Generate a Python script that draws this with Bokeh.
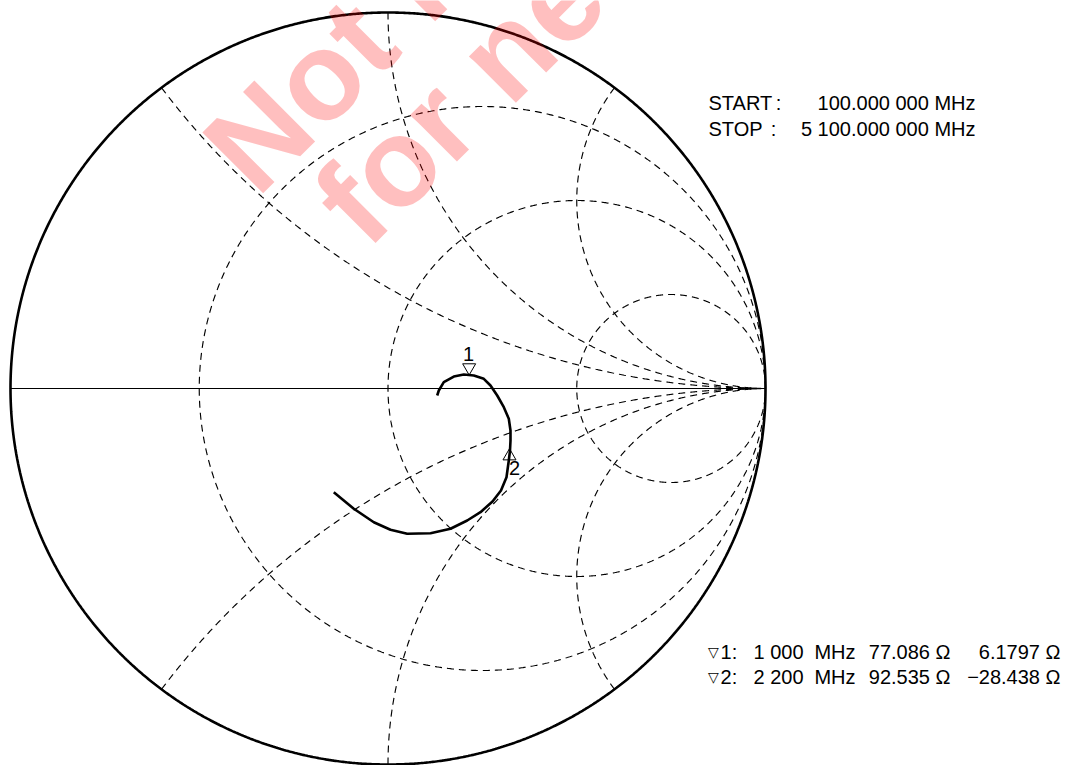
import numpy as np
from bokeh.plotting import figure
from bokeh.core.properties import value
from bokeh.embed import file_html
from bokeh.resources import INLINE

# ---------------- data ----------------
# measured trace, reflection coefficient (real, imag)
trace_re = [0.1303, 0.1346, 0.1478, 0.1743, 0.2008, 0.2273, 0.2538, 0.2715, 0.2893,
            0.3068, 0.3200, 0.3245, 0.3245, 0.3232, 0.3200, 0.3139, 0.2993, 0.2768,
            0.2450, 0.2098, 0.1656, 0.1126, 0.0509, 0.0066, -0.0376, -0.0906, -0.1436]
trace_im = [-0.0186, -0.0053, 0.0168, 0.0319, 0.0372, 0.0346, 0.0258, 0.0080, -0.0186,
            -0.0497, -0.0806, -0.1117, -0.1383, -0.1649, -0.1915, -0.2359, -0.2713, -0.3005,
            -0.3290, -0.3511, -0.3731, -0.3848, -0.3864, -0.3758, -0.3556, -0.3199, -0.2758]

marker_ids = ["1", "2"]
marker_freq_num = ["1 000", "2 200"]
marker_unit = "MHz"
marker_r_ohm = [77.086, 92.535]
marker_x_ohm = [6.1797, -28.438]
marker_r_text = ["77.086 \u03a9", "92.535 \u03a9"]
marker_x_text = ["6.1797 \u03a9", "\u221228.438 \u03a9"]
z0 = 50.0

sweep_labels = ["START", "STOP"]
sweep_values = ["100.000 000 MHz", "5 100.000 000 MHz"]

r_circles = [1.0 / 3.0, 1.0, 3.0]
x_arcs = [0.5, 1.0, 2.0]

watermark_lines = ["Not recommended", "for new design"]

# ---------------- geometry helpers (reference pixel -> chart units) ----------------
CX, CY, RX, RY = 387.5, 388.0, 377.5, 376.0
W, H = 1087, 765


def sx(X):
    return (X - CX) / RX


def sy(Y):
    return (CY - Y) / RY


p = figure(width=W, height=H, x_range=(sx(0), sx(W)), y_range=(sy(H), sy(0)),
           output_backend="svg", toolbar_location=None, min_border=0,
           min_border_left=0, min_border_right=0, min_border_top=0, min_border_bottom=0)
p.xaxis.visible = False
p.yaxis.visible = False
p.grid.visible = False
p.outline_line_color = None
p.background_fill_color = "white"

# grid: resistance circles
t = np.linspace(0, 2 * np.pi, 1441)
gx, gy = [], []
for r in r_circles:
    c = r / (1 + r)
    rad = 1 / (1 + r)
    gx.append(c + rad * np.cos(t))
    gy.append(rad * np.sin(t))
# grid: reactance arcs
rr = np.concatenate([[0.0], np.logspace(-3, 4, 1500)])
for xv in x_arcs:
    for s in (1, -1):
        z = rr + 1j * s * xv
        g = (z - 1) / (z + 1)
        gx.append(g.real)
        gy.append(g.imag)
p.multi_line(gx, gy, line_color="black", line_width=1.15, line_dash="7 5")

# real axis
p.line([-1, 1], [0, 0], line_color="black", line_width=1.2)
# outer circle
p.line(np.cos(t), np.sin(t), line_color="black", line_width=2.6)

# trace
p.line(trace_re, trace_im, line_color="black", line_width=2.6, line_join="round")

# markers
mz = (np.array(marker_r_ohm) + 1j * np.array(marker_x_ohm)) / z0
mg = (mz - 1) / (mz + 1)
mgx, mgy = mg.real, mg.imag
p.scatter([mgx[0]], [mgy[0] + 6.6 / RY], marker="inverted_triangle", size=13,
          line_color="black", line_width=1, fill_alpha=0)
p.scatter([mgx[1] - 1.3 / RX], [mgy[1] - 17.0 / RY], marker="triangle", size=13,
          line_color="black", line_width=1, fill_alpha=0)
p.text([mgx[0] - 0.7 / RX], [mgy[0] + 20.0 / RY], text=[marker_ids[0]], text_align="center",
       text_baseline="middle", text_font=value("Liberation Sans"), text_font_size="20px",
       text_color="black")
p.text([mgx[1] + 3.7 / RX], [mgy[1] - 28.5 / RY], text=[marker_ids[1]], text_align="center",
       text_baseline="middle", text_font=value("Liberation Sans"), text_font_size="20px",
       text_color="black")

FONT = value("Liberation Sans")
# sweep info
sweep_y = [102, 128]
colon_x = [778, 773]
for i in range(2):
    p.text([sx(708)], [sy(sweep_y[i])], text=[sweep_labels[i]], text_align="left",
           text_baseline="middle", text_font=FONT, text_font_size="20px", text_color="black")
    p.text([sx(colon_x[i])], [sy(sweep_y[i])], text=[":"], text_align="center",
           text_baseline="middle", text_font=FONT, text_font_size="20px", text_color="black")
    p.text([sx(975)], [sy(sweep_y[i])], text=[sweep_values[i]], text_align="right",
           text_baseline="middle", text_font=FONT, text_font_size="20px", text_color="black")

# marker table
row_y = [651, 676]
for i in range(2):
    yy = sy(row_y[i])
    p.text([sx(713)], [yy], text=["\u25bd"], text_align="center", text_baseline="middle",
           text_font=value("DejaVu Sans"), text_font_size="14px", text_color="black")
    p.text([sx(720)], [yy], text=[marker_ids[i]], text_align="left", text_baseline="middle",
           text_font=FONT, text_font_size="20px", text_color="black")
    p.text([sx(734)], [yy], text=[":"], text_align="center", text_baseline="middle",
           text_font=FONT, text_font_size="20px", text_color="black")
    p.text([sx(803)], [yy], text=[marker_freq_num[i]], text_align="right", text_baseline="middle",
           text_font=FONT, text_font_size="20px", text_color="black")
    p.text([sx(855)], [yy], text=[marker_unit], text_align="right", text_baseline="middle",
           text_font=FONT, text_font_size="20px", text_color="black")
    p.text([sx(950)], [yy], text=[marker_r_text[i]], text_align="right", text_baseline="middle",
           text_font=FONT, text_font_size="20px", text_color="black")
    p.text([sx(1060)], [yy], text=[marker_x_text[i]], text_align="right", text_baseline="middle",
           text_font=FONT, text_font_size="20px", text_color="black")

# watermark
wm_pos = [(226, 168), (336, 220)]
for i in range(2):
    p.text([sx(wm_pos[i][0])], [sy(wm_pos[i][1])], text=[watermark_lines[i]], angle=np.pi / 4,
           text_align="left", text_baseline="alphabetic", text_font=FONT,
           text_font_style="bold", text_font_size="125px", text_color="red", text_alpha=0.25)

open("out.html", "w").write(file_html(p, INLINE))
